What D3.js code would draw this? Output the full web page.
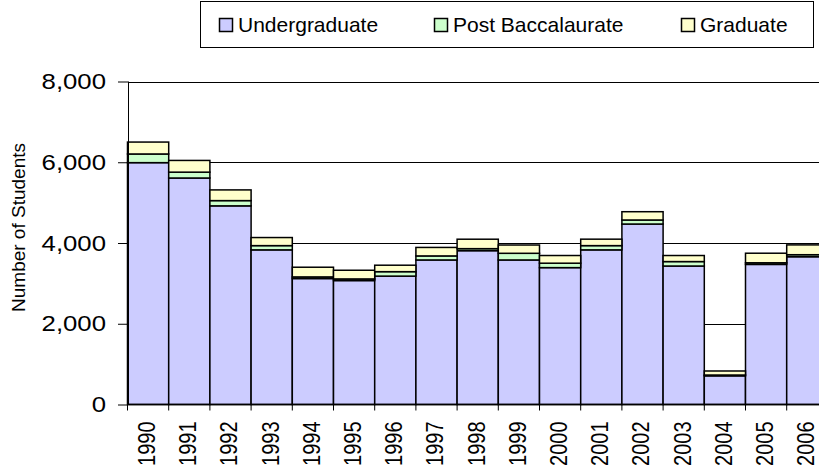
<!DOCTYPE html>
<html><head><meta charset="utf-8">
<script src="https://cdn.jsdelivr.net/npm/d3@7/dist/d3.min.js"></script>
<style>body{margin:0;background:#fff}svg{display:block;font-family:"Liberation Sans",Arial,sans-serif}</style>
</head><body><svg id="c" width="819" height="470"></svg>
<script>
const years = ["1990","1991","1992","1993","1994","1995","1996","1997","1998","1999","2000","2001","2002","2003","2004","2005","2006"];
const undergraduate = [5990,5610,4920,3830,3120,3070,3180,3580,3810,3580,3390,3830,4470,3430,710,3470,3660];
const postBacc = [215,145,130,105,40,40,110,100,50,165,110,105,100,110,20,40,50];
const graduate = [295,290,265,200,240,215,160,210,234,205,190,160,205,150,100,237,243];
const seriesNames = ["Undergraduate","Post Baccalaurate","Graduate"];
const colors = ["#CCCCFF","#CCFFCC","#FFFFCC"];
const yTicks = [0,2000,4000,6000,8000];

const svg = d3.select("#c");
const x = d3.scaleBand().domain(years).range([127.5, 127.5 + 17*41.2]).padding(0);
const y = d3.scaleLinear().domain([0,8000]).range([404.5, 81.5]);

const rows = years.map((yr,i)=>({year:yr, Undergraduate:undergraduate[i], "Post Baccalaurate":postBacc[i], Graduate:graduate[i]}));
const stack = d3.stack().keys(seriesNames)(rows);

// gridlines
svg.append("g").selectAll("line").data(yTicks.slice(1)).join("line")
  .attr("x1",128).attr("x2",819).attr("y1",d=>Math.round(y(d))+0.5).attr("y2",d=>Math.round(y(d))+0.5)
  .attr("stroke","#000").attr("stroke-width",1);

// bars
stack.forEach((s,si)=>{
  svg.append("g").selectAll("rect").data(s).join("rect")
    .attr("x",d=>x(d.data.year)).attr("width",x.bandwidth())
    .attr("y",d=>y(d[1])).attr("height",d=>y(d[0])-y(d[1]))
    .attr("fill",colors[si]).attr("stroke","#000").attr("stroke-width",1.5);
});

// y axis
const ya = svg.append("g").attr("transform","translate(128,0)")
  .call(d3.axisLeft(y).tickValues(yTicks).tickSize(10).tickPadding(12).tickFormat(d3.format(",")));
ya.select(".domain").attr("stroke","#000").attr("d","M0.5,"+y(8000)+"V"+y(0));
ya.selectAll(".tick line").attr("stroke","#000");
ya.selectAll("text").attr("font-size",22).attr("font-family","Liberation Sans, Arial, sans-serif").attr("fill","#000")
  .attr("x",0).attr("transform","translate(-22,0) scale(1.17,1)");

// x axis
const xa = svg.append("g").attr("transform","translate(0,"+y(0)+")");
xa.append("line").attr("x1",127.5).attr("x2",819).attr("y1",0).attr("y2",0).attr("stroke","#000").attr("stroke-width",1.5);
xa.selectAll("line.t").data(years).join("line").attr("class","t")
  .attr("x1",d=>x(d)).attr("x2",d=>x(d)).attr("y1",0).attr("y2",6).attr("stroke","#000");
xa.selectAll("text").data(years).join("text")
  .attr("transform",d=>"translate("+(x(d)+x.bandwidth()/2-1.5)+",17) scale(1.17,1) rotate(-90)")
  .attr("text-anchor","end").attr("dy","0.36em").attr("font-size",20).text(d=>d);

// axis title
svg.append("text").attr("transform","translate(18.5,227.5) rotate(-90)").attr("text-anchor","middle")
  .attr("dy","0.36em").attr("font-size",19).text("Number of Students");

// legend
const lg = svg.append("g");
lg.append("rect").attr("x",200.5).attr("y",1.5).attr("width",613).attr("height",46).attr("fill","#fff").attr("stroke","#000");
const lx = [219,434,681];
seriesNames.forEach((n,i)=>{
  lg.append("rect").attr("x",lx[i]+0.5).attr("y",18.5).attr("width",13).attr("height",13).attr("fill",colors[i]).attr("stroke","#000").attr("stroke-width",1.5);
  lg.append("text").attr("x",lx[i]+19).attr("y",32).attr("font-size",21).text(n);
});
</script></body></html>
